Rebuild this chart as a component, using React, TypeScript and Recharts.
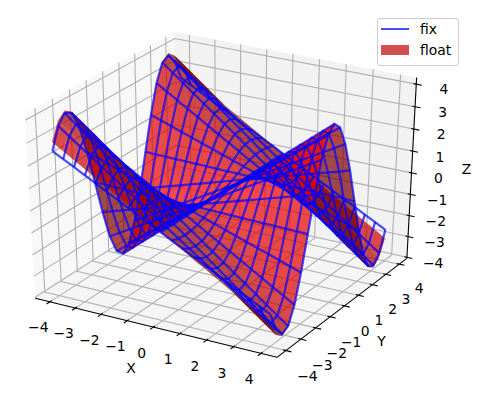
import { ScatterChart, Scatter, XAxis, YAxis } from "recharts";

const gridX = [-4, -3.6, -3.2, -2.8, -2.4, -2, -1.6, -1.2, -0.8, -0.4, 0, 0.4, 0.8, 1.2, 1.6, 2, 2.4, 2.8, 3.2, 3.6, 4];
const gridY = [-4, -3.6, -3.2, -2.8, -2.4, -2, -1.6, -1.2, -0.8, -0.4, 0, 0.4, 0.8, 1.2, 1.6, 2, 2.4, 2.8, 3.2, 3.6, 4];
const tickValues = [-4, -3, -2, -1, 0, 1, 2, 3, 4];
const tickLabels = ["−4", "−3", "−2", "−1", "0", "1", "2", "3", "4"];

// z rows for one y, from x=-4 to x=4
const row00 = [-4, -3.6, -3.2, -2.8, -2.4, -2, -1.6, -1.2, -0.8, -0.4, 0, 0.4, 0.8, 1.2, 1.6, 2, 2.4, 2.8, 3.2, 3.6, 4];
const row04 = [-3.68, -3.32, -2.95, -2.58, -2.21, -1.84, -1.47, -1.11, -0.74, -0.37, 0, 0.37, 0.74, 1.11, 1.47, 1.84, 2.21, 2.58, 2.95, 3.32, 3.68];
const row08 = [-2.79, -2.51, -2.23, -1.95, -1.67, -1.39, -1.12, -0.84, -0.56, -0.28, 0, 0.28, 0.56, 0.84, 1.12, 1.39, 1.67, 1.95, 2.23, 2.51, 2.79];
const row12 = [-1.45, -1.3, -1.16, -1.01, -0.87, -0.72, -0.58, -0.43, -0.29, -0.14, 0, 0.14, 0.29, 0.43, 0.58, 0.72, 0.87, 1.01, 1.16, 1.3, 1.45];
const row16 = [0.12, 0.1, 0.09, 0.08, 0.07, 0.06, 0.05, 0.03, 0.02, 0.01, 0, -0.01, -0.02, -0.03, -0.05, -0.06, -0.07, -0.08, -0.09, -0.1, -0.12];
const row20 = [1.66, 1.5, 1.33, 1.16, 1.0, 0.83, 0.67, 0.5, 0.33, 0.17, 0, -0.17, -0.33, -0.5, -0.67, -0.83, -1.0, -1.16, -1.33, -1.5, -1.66];
const row24 = [2.95, 2.65, 2.36, 2.06, 1.77, 1.47, 1.18, 0.88, 0.59, 0.29, 0, -0.29, -0.59, -0.88, -1.18, -1.47, -1.77, -2.06, -2.36, -2.65, -2.95];
const float28 = [3.77, 3.39, 3.01, 2.64, 2.26, 1.88, 1.51, 1.13, 0.75, 0.38, 0, -0.38, -0.75, -1.13, -1.51, -1.88, -2.26, -2.64, -3.01, -3.39, -3.77];
const float32 = [3.99, 3.59, 3.19, 2.79, 2.4, 2.0, 1.6, 1.2, 0.8, 0.4, 0, -0.4, -0.8, -1.2, -1.6, -2.0, -2.4, -2.79, -3.19, -3.59, -3.99];
const float36 = [3.72, 3.35, 2.98, 2.6, 2.23, 1.86, 1.49, 1.12, 0.74, 0.37, 0, -0.37, -0.74, -1.12, -1.49, -1.86, -2.23, -2.6, -2.98, -3.35, -3.72];
const float40 = [2.96, 2.66, 2.37, 2.07, 1.78, 1.48, 1.18, 0.89, 0.59, 0.3, 0, -0.3, -0.59, -0.89, -1.18, -1.48, -1.78, -2.07, -2.37, -2.66, -2.96];
const fix28 = [3.72, 3.35, 2.98, 2.6, 2.23, 1.86, 1.49, 1.12, 0.74, 0.37, 0, -0.37, -0.74, -1.12, -1.49, -1.86, -2.23, -2.6, -2.98, -3.35, -3.72];
const fix32 = [3.88, 3.49, 3.1, 2.72, 2.33, 1.94, 1.55, 1.16, 0.78, 0.39, 0, -0.39, -0.78, -1.16, -1.55, -1.94, -2.33, -2.72, -3.1, -3.49, -3.88];
const fix36 = [3.48, 3.13, 2.78, 2.44, 2.09, 1.74, 1.39, 1.04, 0.7, 0.35, 0, -0.35, -0.7, -1.04, -1.39, -1.74, -2.09, -2.44, -2.78, -3.13, -3.48];
const fix40 = [2.56, 2.3, 2.05, 1.79, 1.54, 1.28, 1.02, 0.77, 0.51, 0.26, 0, -0.26, -0.51, -0.77, -1.02, -1.28, -1.54, -1.79, -2.05, -2.3, -2.56];

const zFloat = [float40, float36, float32, float28, row24, row20, row16, row12, row08, row04, row00, row04, row08, row12, row16, row20, row24, float28, float32, float36, float40];
const zFix = [fix40, fix36, fix32, fix28, row24, row20, row16, row12, row08, row04, row00, row04, row08, row12, row16, row20, row24, fix28, fix32, fix36, fix40];

const W = 491;
const H = 399;
const SCALE_X = 2681;
const SCALE_Y = 1998;
const ORIGIN_X = 224;
const ORIGIN_Y = 189;
const LIM = 4.4;
const EDGE = 4.583;
const Z_SPAN = 7.9;
const Z_MID = 0.12;
const Z_LOW = -4.05;
const Z_TOP = 4.29;

// same camera as a default mplot3d axes: elev 30, azim -60, dist 10
const project = (x: number, y: number, z: number) => {
  const rx = x / (2 * LIM);
  const ry = y / (2 * LIM);
  const rz = (z - Z_MID) / Z_SPAN;
  const xe = 0.866025 * rx + 0.5 * ry;
  const ye = -0.25 * rx + 0.433013 * ry + 0.866025 * rz;
  const ze = 0.433013 * rx - 0.75 * ry + 0.5 * rz - 10;
  return { px: xe / -ze, py: ye / -ze, depth: ze };
};

const pt = (x: number, y: number, z: number) => {
  const p = project(x, y, z);
  return { px: p.px, py: p.py };
};

const LIGHT = [-0.6667, -0.6667, 0.3333];

type Quad = { pts: { px: number; py: number }[]; depth: number; fill: string };
const quads: Quad[] = [];
for (let j = 0; j < gridY.length - 1; j++) {
  for (let i = 0; i < gridX.length - 1; i++) {
    const v = [
      [gridX[i], gridY[j], zFloat[j][i]],
      [gridX[i + 1], gridY[j], zFloat[j][i + 1]],
      [gridX[i + 1], gridY[j + 1], zFloat[j + 1][i + 1]],
      [gridX[i], gridY[j + 1], zFloat[j + 1][i]],
    ];
    const a = [v[2][0] - v[0][0], v[2][1] - v[0][1], v[2][2] - v[0][2]];
    const b = [v[3][0] - v[1][0], v[3][1] - v[1][1], v[3][2] - v[1][2]];
    const n = [a[1] * b[2] - a[2] * b[1], a[2] * b[0] - a[0] * b[2], a[0] * b[1] - a[1] * b[0]];
    const len = Math.hypot(n[0], n[1], n[2]);
    const dot = (n[0] * LIGHT[0] + n[1] * LIGHT[1] + n[2] * LIGHT[2]) / len;
    const shade = 0.3 + 0.7 * ((dot + 1) / 2);
    const proj = v.map((c) => project(c[0], c[1], c[2]));
    quads.push({
      pts: proj.map((p) => ({ px: p.px, py: p.py })),
      depth: proj.reduce((s, p) => s + p.depth, 0) / 4,
      fill: `rgba(${Math.round(shade * 255)},0,0,0.7)`,
    });
  }
}
quads.sort((q, r) => q.depth - r.depth);
const quadPoints = quads.flatMap((q) => q.pts);
const quadFills = quads.map((q) => q.fill);

const paneFills = ["rgba(242,242,242,0.5)", "rgba(230,230,230,0.5)", "rgba(236,236,236,0.5)"];
const panePoints = [
  pt(-EDGE, -EDGE, Z_LOW), pt(-EDGE, EDGE, Z_LOW), pt(-EDGE, EDGE, Z_TOP), pt(-EDGE, -EDGE, Z_TOP),
  pt(-EDGE, EDGE, Z_LOW), pt(EDGE, EDGE, Z_LOW), pt(EDGE, EDGE, Z_TOP), pt(-EDGE, EDGE, Z_TOP),
  pt(-EDGE, -EDGE, Z_LOW), pt(EDGE, -EDGE, Z_LOW), pt(EDGE, EDGE, Z_LOW), pt(-EDGE, EDGE, Z_LOW),
];

const polygons = (fills: string[]) => (props: any) => (
  <g>
    {fills.map((fill, i) => (
      <polygon
        key={i}
        fill={fill}
        stroke="none"
        points={props.points.slice(i * 4, i * 4 + 4).map((p: any) => `${p.x},${p.y}`).join(" ")}
      />
    ))}
  </g>
);

const noDot = () => <g />;

const textDot = (size: number) => (props: any) => (
  <text
    x={props.cx}
    y={props.cy}
    fontFamily="DejaVu Sans"
    fontSize={size}
    fill="#000"
    textAnchor="middle"
    dominantBaseline="central"
  >
    {props.payload.label}
  </text>
);

const gridLines = tickValues.flatMap((t) => [
  [pt(t, -EDGE, Z_LOW), pt(t, EDGE, Z_LOW), pt(t, EDGE, Z_TOP)],
  [pt(EDGE, t, Z_LOW), pt(-EDGE, t, Z_LOW), pt(-EDGE, t, Z_TOP)],
  [pt(-EDGE, -EDGE, t), pt(-EDGE, EDGE, t), pt(EDGE, EDGE, t)],
]);

const axisLines = [
  [pt(-EDGE, -EDGE, Z_LOW), pt(EDGE, -EDGE, Z_LOW)],
  [pt(EDGE, -EDGE, Z_LOW), pt(EDGE, EDGE, Z_LOW)],
  [pt(EDGE, EDGE, Z_LOW), pt(EDGE, EDGE, Z_TOP)],
];

const TICK_IN = 0.1;
const TICK_OUT = 0.2;
const tickMarks = tickValues.flatMap((t) => [
  [pt(t, -EDGE + TICK_IN, Z_LOW), pt(t, -EDGE - TICK_OUT, Z_LOW)],
  [pt(EDGE - TICK_IN, t, Z_LOW), pt(EDGE + TICK_OUT, t, Z_LOW)],
  [pt(EDGE - TICK_IN, EDGE, t), pt(EDGE + TICK_OUT, EDGE, t)],
]);

const tickText = tickValues.flatMap((t, i) => [
  { ...pt(t, -EDGE - 0.75, Z_LOW - 0.8), label: tickLabels[i] },
  { ...pt(EDGE + 0.8, t, Z_LOW - 0.95), label: tickLabels[i] },
  { ...pt(EDGE + 1.0, EDGE, t), label: tickLabels[i] },
]);

const axisTitles = [
  { ...pt(0, -6.0, -5.22), label: "X" },
  { ...pt(6.0, 0, -5.32), label: "Y" },
  { ...pt(EDGE + 1.43, EDGE + 1.25, 0), label: "Z" },
];

const wireLines = [
  ...gridY.map((y, j) => gridX.map((x, i) => pt(x, y, zFix[j][i]))),
  ...gridX.map((x, i) => gridY.map((y, j) => pt(x, y, zFix[j][i]))),
];

const legendLabels = ["fix", "float"];

function PlotLegend() {
  const text = { position: "absolute" as const, left: 420, fontFamily: "DejaVu Sans", fontSize: 13.9, lineHeight: "16px" };
  return (
    <div style={{ position: "absolute", left: 0, top: 0 }}>
      <div
        style={{
          position: "absolute", left: 376.5, top: 18, width: 80, height: 46, boxSizing: "content-box",
          background: "rgba(255,255,255,0.8)", border: "1px solid #ccc", borderRadius: 3,
        }}
      />
      <div style={{ position: "absolute", left: 381, top: 28, width: 28, height: 2, background: "rgba(0,0,255,0.7)" }} />
      <div style={{ position: "absolute", left: 381, top: 45, width: 28, height: 10, background: "#d45050" }} />
      <div style={{ ...text, top: 21 }}>{legendLabels[0]}</div>
      <div style={{ ...text, top: 42 }}>{legendLabels[1]}</div>
    </div>
  );
}

export default function App() {
  return (
    <div style={{ position: "absolute", left: 0, top: 0, width: W, height: H, background: "#fff" }}>
      <ScatterChart width={W} height={H} margin={{ top: 0, right: 0, bottom: 0, left: 0 }}>
        <XAxis
          type="number"
          dataKey="px"
          hide
          allowDataOverflow
          domain={[-ORIGIN_X / SCALE_X, (W - ORIGIN_X) / SCALE_X]}
        />
        <YAxis
          type="number"
          dataKey="py"
          hide
          allowDataOverflow
          domain={[(ORIGIN_Y - H) / SCALE_Y, ORIGIN_Y / SCALE_Y]}
        />
        <Scatter data={panePoints} shape={noDot} line={polygons(paneFills)} isAnimationActive={false} />
        {gridLines.map((d, i) => (
          <Scatter key={`g${i}`} data={d} shape={noDot} line={{ stroke: "#b0b0b0", strokeWidth: 1.1 }} isAnimationActive={false} />
        ))}
        {axisLines.map((d, i) => (
          <Scatter key={`a${i}`} data={d} shape={noDot} line={{ stroke: "#000", strokeWidth: 1.1 }} isAnimationActive={false} />
        ))}
        {tickMarks.map((d, i) => (
          <Scatter key={`t${i}`} data={d} shape={noDot} line={{ stroke: "#000", strokeWidth: 1.1 }} isAnimationActive={false} />
        ))}
        <Scatter data={tickText} shape={textDot(13.9)} isAnimationActive={false} />
        <Scatter data={axisTitles} shape={textDot(13.9)} isAnimationActive={false} />
        <Scatter data={quadPoints} shape={noDot} line={polygons(quadFills)} isAnimationActive={false} />
        {wireLines.map((d, i) => (
          <Scatter key={`w${i}`} data={d} shape={noDot} line={{ stroke: "rgba(0,0,255,0.7)", strokeWidth: 2.2 }} isAnimationActive={false} />
        ))}
      </ScatterChart>
      <PlotLegend />
    </div>
  );
}
